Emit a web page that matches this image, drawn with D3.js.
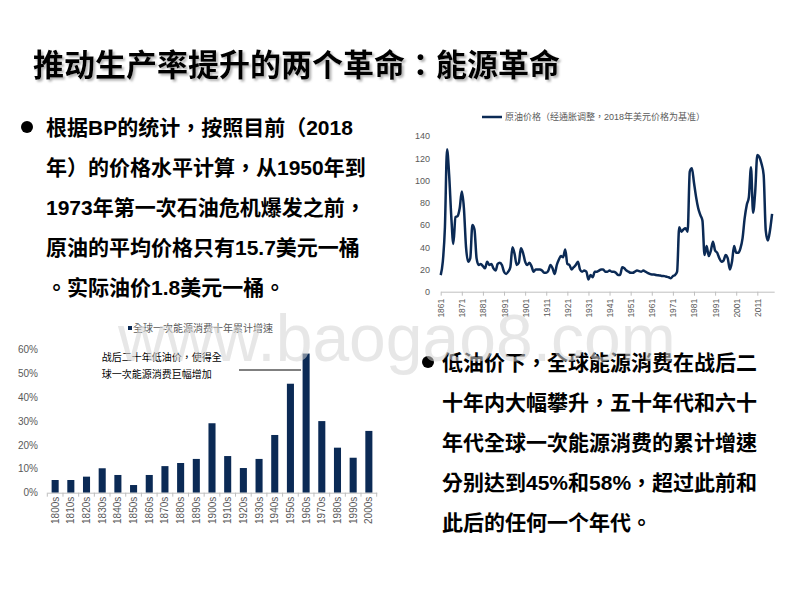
<!DOCTYPE html>
<html>
<head>
<meta charset="utf-8">
<script src="https://cdn.jsdelivr.net/npm/d3@7/dist/d3.min.js"></script>
<style>
  html, body { margin: 0; padding: 0; background: #fff; }
  svg { display: block; }
  text { font-family: "Liberation Sans", Arial, "Noto Sans CJK TC", sans-serif; }
</style>
</head>
<body>
<svg id="chart" width="800" height="600"></svg>
<script>
// ---------- Data ----------
const pageTitle = "推动生产率提升的两个革命：能源革命";
const leftLines = [
  "根据BP的统计，按照目前（2018",
  "年）的价格水平计算，从1950年到",
  "1973年第一次石油危机爆发之前，",
  "原油的平均价格只有15.7美元一桶",
  "。实际油价1.8美元一桶。"
];
const rightLines = [
  "低油价下，全球能源消费在战后二",
  "十年内大幅攀升，五十年代和六十",
  "年代全球一次能源消费的累计增速",
  "分别达到45%和58%，超过此前和",
  "此后的任何一个年代。"
];

// Oil price (inflation adjusted, 2018 USD), 1861-2018
const oilStartYear = 1861;
const oilPrices = [
  14.9, 27, 58, 128, 105, 68, 43, 67, 68, 75,      // 1861-1870
  90, 75, 40, 27, 30, 60, 56, 30, 24, 25,          // 1871-1880
  23, 21, 27, 24, 25, 21, 19, 25, 26, 24,          // 1881-1890
  18, 16, 18, 22, 40, 34, 24, 26, 39, 35,          // 1891-1900
  27, 24, 26, 23, 18, 20, 20, 20, 19, 17,          // 1901-1910
  17, 19, 24, 21, 16, 24, 29, 32, 31, 38,          // 1911-1920
  25, 24, 20, 22, 24, 27, 20, 18, 19, 18,          // 1921-1930
  11, 15, 13, 18, 18, 19, 20, 20, 18, 18,          // 1931-1940
  19, 18, 18, 17, 15, 15, 22, 21, 19, 18,          // 1941-1950
  17, 17, 18, 19, 18.5, 18, 19, 18, 17, 16,        // 1951-1960
  15.5, 15.5, 15, 14.8, 14.5, 14.2, 14, 13.5, 13, 12, // 1961-1970
  14, 15, 18, 58, 54, 56, 57, 54, 108, 111,        // 1971-1980
  98, 85, 75, 69, 64, 33, 41, 32, 37, 45,          // 1981-1990
  37, 35, 30, 27, 28, 33, 30, 20, 27, 41,          // 1991-2000
  35, 35, 39, 48, 66, 78, 85, 112, 71, 90,         // 2001-2010
  123, 121, 115, 105, 55, 46, 55, 70               // 2011-2018
];
const oilYears = oilPrices.map((_, i) => oilStartYear + i);
const oilTickYears = [1861, 1871, 1881, 1891, 1901, 1911, 1921, 1931, 1941, 1951, 1961, 1971, 1981, 1991, 2001, 2011];
const oilYTicks = [0, 20, 40, 60, 80, 100, 120, 140];
const oilLegend = "原油价格（经通胀调整，2018年美元价格为基准）";

// Decade cumulative growth of global primary energy consumption
const decades = ["1800s","1810s","1820s","1830s","1840s","1850s","1860s","1870s","1880s","1890s","1900s","1910s","1920s","1930s","1940s","1950s","1960s","1970s","1980s","1990s","2000s"];
const growth = [0.053, 0.053, 0.067, 0.102, 0.074, 0.032, 0.074, 0.111, 0.124, 0.141, 0.290, 0.153, 0.103, 0.141, 0.241, 0.455, 0.581, 0.299, 0.188, 0.146, 0.258];
const growthYTicks = [0, 0.1, 0.2, 0.3, 0.4, 0.5, 0.6];
const barLegend = "全球一次能源消费十年累计增速";
const annotationLines = ["战后二十年低油价，使得全", "球一次能源消费巨幅增加"];
const watermark = "www.baogao8.com";

// ---------- Drawing ----------
const svg = d3.select("#chart");
const NAVY = "#0b2a55";
const GREY_TXT = "#595959";
const AXIS = "#bfbfbf";

const defs = svg.append("defs");
const f = defs.append("filter").attr("id", "tshadow").attr("x", "-5%").attr("y", "-20%").attr("width", "110%").attr("height", "150%");
f.append("feDropShadow").attr("dx", 2).attr("dy", 2).attr("stdDeviation", 0.8)
  .attr("flood-color", "#808080").attr("flood-opacity", 0.6);

// Title
svg.append("text")
  .attr("x", 33).attr("y", 62)
  .attr("fill", "#000")
  .attr("filter", "url(#tshadow)")
  .attr("dominant-baseline", "central")
  .style("font-family", "'Noto Sans CJK TC', sans-serif")
  .style("font-weight", "bold").style("font-size", "31px")
  .text(pageTitle);

// Text blocks
function textBlock(lines, x, y0, bx) {
  svg.append("circle").attr("cx", bx).attr("cy", y0).attr("r", 6).attr("fill", "#000");
  svg.append("g").selectAll("text").data(lines).join("text")
    .attr("x", x).attr("y", (d, i) => y0 + i * 40)
    .attr("dominant-baseline", "central")
    .attr("fill", "#000")
    .style("font-weight", "bold").style("font-size", "21px")
    .text(d => d);
}
textBlock(leftLines, 46, 127, 27);
textBlock(rightLines, 442, 362, 428);

// ---------- Oil line chart ----------
const ox = d3.scaleLinear().domain([1861, 2019]).range([440.7, 774.2]);
const oy = d3.scaleLinear().domain([0, 140]).range([291.7, 136]);

const oxAxis = svg.append("g").attr("transform", `translate(0,${oy(0)})`)
  .call(d3.axisBottom(ox).tickValues(oilTickYears).tickFormat(d => String(d)).tickSize(4).tickSizeOuter(0));
oxAxis.select(".domain").attr("stroke", AXIS);
oxAxis.selectAll(".tick line").attr("stroke", AXIS);
oxAxis.selectAll(".tick text")
  .attr("transform", "rotate(-90)")
  .attr("x", -7).attr("y", 0).attr("dy", "0.35em")
  .style("text-anchor", "end")
  .style("font-size", "8.5px").attr("fill", GREY_TXT);

const oyAxis = svg.append("g").attr("transform", `translate(430,0)`)
  .call(d3.axisLeft(oy).tickValues(oilYTicks).tickSize(0).tickPadding(0));
oyAxis.select(".domain").remove();
oyAxis.selectAll(".tick text").style("font-size", "9px").attr("fill", GREY_TXT);

const line = d3.line().x((d, i) => ox(oilYears[i])).y(d => oy(d)).curve(d3.curveMonotoneX);
svg.append("path").datum(oilPrices)
  .attr("d", line).attr("fill", "none")
  .attr("stroke", NAVY).attr("stroke-width", 2.5)
  .attr("stroke-linejoin", "round");

svg.append("line").attr("x1", 482).attr("x2", 502).attr("y1", 117).attr("y2", 117)
  .attr("stroke", NAVY).attr("stroke-width", 2.5);
svg.append("text").attr("x", 505).attr("y", 117)
  .attr("dominant-baseline", "central")
  .style("font-size", "9px").attr("fill", GREY_TXT)
  .text(oilLegend);

// ---------- Bar chart ----------
const bx = d3.scaleBand().domain(decades).range([47.3, 376.7]).paddingInner(0.55).paddingOuter(0.275);
const by = d3.scaleLinear().domain([0, 0.6]).range([492.7, 349]);

svg.append("g").selectAll("rect").data(growth).join("rect")
  .attr("x", (d, i) => bx(decades[i]))
  .attr("width", bx.bandwidth())
  .attr("y", d => by(d))
  .attr("height", d => by(0) - by(d))
  .attr("fill", NAVY);

const bxAxis = svg.append("g").attr("transform", `translate(0,${by(0)})`)
  .call(d3.axisBottom(bx).tickSize(0).tickSizeOuter(0));
bxAxis.select(".domain").attr("stroke", AXIS);
bxAxis.selectAll(".tick text")
  .attr("transform", "rotate(-90)")
  .attr("x", -4).attr("y", 0).attr("dy", "0.35em")
  .style("text-anchor", "end")
  .style("font-size", "10px").attr("fill", GREY_TXT);
const step = bx.step();
svg.append("g").selectAll("line").data(d3.range(decades.length + 1)).join("line")
  .attr("x1", i => 47.3 + i * step).attr("x2", i => 47.3 + i * step)
  .attr("y1", by(0)).attr("y2", by(0) + 4)
  .attr("stroke", AXIS);

const byAxis = svg.append("g").attr("transform", `translate(38,0)`)
  .call(d3.axisLeft(by).tickValues(growthYTicks).tickFormat(d3.format(".0%")).tickSize(0).tickPadding(0));
byAxis.select(".domain").remove();
byAxis.selectAll(".tick text").style("font-size", "10px").attr("fill", GREY_TXT);

// legend
svg.append("rect").attr("x", 128).attr("y", 326).attr("width", 4).attr("height", 4).attr("fill", NAVY);
svg.append("text").attr("x", 133).attr("y", 328)
  .attr("dominant-baseline", "central")
  .style("font-size", "10px").attr("fill", GREY_TXT)
  .text(barLegend);

// annotation
svg.append("g").selectAll("text").data(annotationLines).join("text")
  .attr("x", 101.7).attr("y", (d, i) => 357 + i * 17.5)
  .attr("dominant-baseline", "central")
  .style("font-size", "10px").attr("fill", "#000")
  .text(d => d);
svg.append("line").attr("x1", 239).attr("x2", 301).attr("y1", 370).attr("y2", 370)
  .attr("stroke", "#000").attr("stroke-width", 1);

// Watermark
svg.append("text").attr("x", 118).attr("y", 361)
  .style("font-size", "66px")
  .attr("fill", "#d4d4d4").attr("opacity", 0.55)
  .text(watermark);
</script>
</body>
</html>
